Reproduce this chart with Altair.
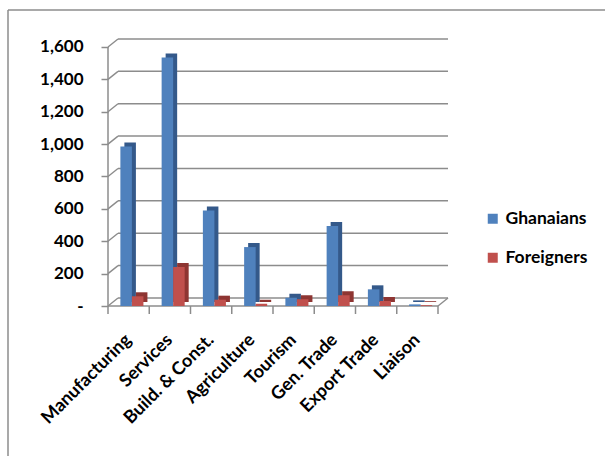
import altair as alt
import pandas as pd

categories = ["Manufacturing", "Services", "Build. & Const.", "Agriculture",
              "Tourism", "Gen. Trade", "Export Trade", "Liaison"]
series = ["Ghanaians", "Foreigners"]
ghanaians = [985, 1535, 590, 364, 51, 494, 103, 10]
foreigners = [60, 241, 39, 14, 41, 66, 31, 5]
y_ticks = [0, 200, 400, 600, 800, 1000, 1200, 1400, 1600]

front_colors = ["#4f81bd", "#c0504d"]
side_colors = ["#34598a", "#8e3532"]
GRID = "#8c8c8c"
FONT = "Lato"
FS = 17

rows = []
for c, g, f in zip(categories, ghanaians, foreigners):
    rows.append({"cat": c, "series": series[0], "value": g})
    rows.append({"cat": c, "series": series[1], "value": f})
df = pd.DataFrame(rows)
cat_df = pd.DataFrame({"cat": categories})
grid_df = pd.DataFrame({"v": y_ticks})
span_df = pd.DataFrame({"lo": [y_ticks[0]], "hi": [y_ticks[-1]]})

W, H = 330, 266
DX, DY = 10, -8

x_axis = alt.Axis(title=None, ticks=False, domain=False, labelAngle=-45,
                  labelAlign="right", labelBaseline="middle", labelPadding=31,
                  labelFont=FONT, labelFontSize=18, labelFontWeight="bold",
                  labelColor="#000000", labelOverlap=False)
x_scale = alt.Scale(paddingInner=0, paddingOuter=0)
y_scale = alt.Scale(domain=[0, 1643.2], nice=False, zero=True)
y_axis = alt.Axis(title=None, grid=False, domain=False, values=y_ticks,
                  tickSize=7, tickColor=GRID, tickWidth=1.5, labelPadding=18,
                  labelFont=FONT, labelFontSize=FS, labelFontWeight="bold",
                  labelColor="#000000",
                  labelExpr="datum.value == 0 ? '-\u00a0\u00a0\u00a0' : format(datum.value, ',')")

X = alt.X("cat:N", sort=categories, scale=x_scale, axis=x_axis)
xoff_front = alt.XOffset("series:N", sort=series,
                         scale=alt.Scale(paddingInner=0, paddingOuter=0.79, align=0.68))
xoff_side = alt.XOffset("series:N", sort=series,
                        scale=alt.Scale(paddingInner=0, paddingOuter=0.79, align=0.90))

# border (top & left)
border_top = alt.Chart(span_df).mark_rule(color="#8c8c8c", strokeWidth=1.5).encode(
    x=alt.value(-100), x2=alt.value(600), y=alt.value(-30))
border_left = alt.Chart(span_df).mark_rule(color="#8c8c8c", strokeWidth=1.5).encode(
    x=alt.value(-100), y=alt.value(-30), y2=alt.value(500))

gridlines = alt.Chart(grid_df).mark_rule(color=GRID, strokeWidth=1.5, yOffset=DY).encode(
    y=alt.Y("v:Q", scale=y_scale, axis=y_axis), x=alt.value(DX), x2=alt.value(W + DX))
diagonals = alt.Chart(grid_df).mark_rule(color=GRID, strokeWidth=1.5, y2Offset=DY).encode(
    y=alt.Y("v:Q", scale=y_scale, axis=y_axis), y2="v:Q", x=alt.value(0), x2=alt.value(DX))
front_axis = alt.Chart(span_df).mark_rule(color=GRID, strokeWidth=1.5).encode(
    y=alt.Y("lo:Q", scale=y_scale, axis=y_axis), y2="hi:Q", x=alt.value(0))
floor_front = alt.Chart(span_df).mark_rule(color=GRID, strokeWidth=1.5).encode(
    y=alt.Y("lo:Q", scale=y_scale, axis=y_axis), x=alt.value(0), x2=alt.value(W))
floor_right = alt.Chart(span_df).mark_rule(color=GRID, strokeWidth=1.5, y2Offset=DY).encode(
    y=alt.Y("lo:Q", scale=y_scale, axis=y_axis), y2="lo:Q", x=alt.value(W), x2=alt.value(W + DX))

xticks = alt.Chart(cat_df).mark_rule(color=GRID, strokeWidth=1.5).encode(
    x=alt.X("cat:N", sort=categories, scale=x_scale, axis=x_axis, bandPosition=0),
    y=alt.value(H), y2=alt.value(H + 8))
xtick_end = alt.Chart(cat_df).transform_filter(
    alt.datum.cat == categories[-1]).mark_rule(color=GRID, strokeWidth=1.5).encode(
    x=alt.X("cat:N", sort=categories, scale=x_scale, axis=x_axis, bandPosition=1),
    y=alt.value(H), y2=alt.value(H + 8))

shadow = alt.Chart(df).mark_bar(yOffset=-4, y2Offset=-4).encode(
    x=X, xOffset=xoff_side,
    y=alt.Y("value:Q", scale=y_scale, axis=y_axis),
    color=alt.Color("series:N", sort=series,
                    scale=alt.Scale(domain=series, range=side_colors), legend=None))

bars = alt.Chart(df).mark_bar().encode(
    x=X, xOffset=xoff_front,
    y=alt.Y("value:Q", scale=y_scale, axis=y_axis),
    fill=alt.Fill("series:N", sort=series,
                  scale=alt.Scale(domain=series, range=front_colors),
                  legend=alt.Legend(title=None, orient="none", legendX=376, legendY=170,
                                    symbolType="square", symbolSize=100,
                                    symbolStrokeWidth=0, rowPadding=20,
                                    labelFont=FONT, labelFontSize=17.5,
                                    labelFontWeight="bold", labelColor="#000000",
                                    labelOffset=4)))

chart = alt.layer(
    border_top, border_left, gridlines, diagonals, front_axis, floor_front,
    floor_right, xticks, xtick_end, shadow, bars
).resolve_scale(color="independent", xOffset="independent").properties(
    width=W, height=H,
    autosize=alt.AutoSizeParams(type="none"),
    padding={"left": 108, "top": 40, "right": 167, "bottom": 150},
    background="white"
).configure_view(stroke=None)

chart.save("out.html", embed_options={"renderer": "svg", "actions": False})
